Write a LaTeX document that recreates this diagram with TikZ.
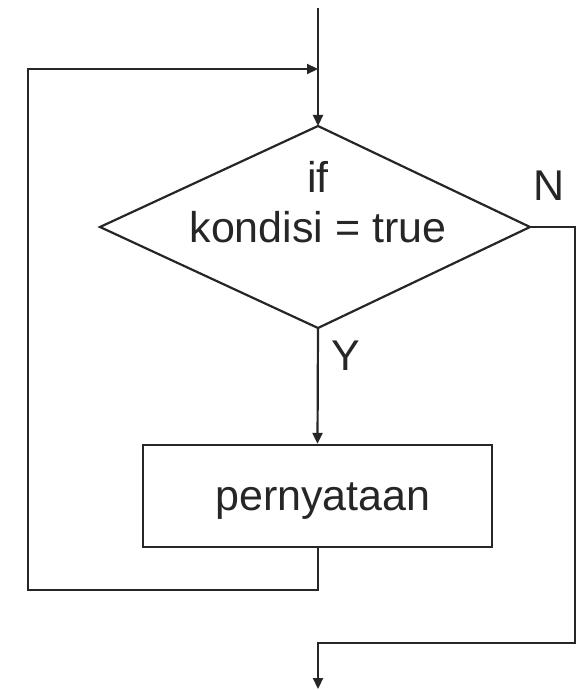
\documentclass[tikz,border=0pt]{standalone}
\usepackage{fontspec}
\setmainfont{Liberation Sans}
\usetikzlibrary{shapes.geometric,arrows.meta}
\begin{document}
\begin{tikzpicture}[x=1pt,y=-1pt,
  line/.style={draw=black!85, line width=2.2pt},
  arr/.style={line, -{Triangle[length=11pt,width=10pt]}},
  txt/.style={font=\fontsize{43}{49}\selectfont, text=black!85}]
\useasboundingbox (0,0) rectangle (576,690);
% decision diamond
\draw[line] (318,126) coordinate (dt) -- (530,227) coordinate (dr)
  -- (318,328) coordinate (db) -- (100,227) coordinate (dl) -- cycle;
\node[txt, anchor=base] (if) at (318,192) {if};
\node[txt, anchor=base] (cond) at (318,242) {kondisi = true};
% statement box
\node[draw=black!85, line width=2.2pt, minimum width=349pt, minimum height=102pt,
  inner sep=0pt] (stmt) at (317.5,496) {};
\node[txt, anchor=base] (stmttxt) at (323,510) {pernyataan};
% branch labels
\node[txt] (n) at (549,186) {N};
\node[txt] (y) at (346,356) {Y};
% entry
\coordinate (start) at (318,8);
\draw[arr] (start) -- (dt);
% yes branch
\draw[arr] (db) -- (stmt.north);
% loop back to the condition
\coordinate (lb) at (318,590);
\coordinate (ll) at (28,590);
\coordinate (lt) at (28,69);
\coordinate (lj) at (318,69);
\draw[arr] (stmt.south -| lb) -- (lb) -- (ll) -- (lt) -- (lj);
% no branch / exit
\coordinate (nr) at (575,227);
\coordinate (nb) at (575,643);
\coordinate (nx) at (318,643);
\coordinate (end) at (318,689);
\draw[arr] (dr) -- (nr) -- (nb) -- (nx) -- (end);
\end{tikzpicture}
\end{document}
